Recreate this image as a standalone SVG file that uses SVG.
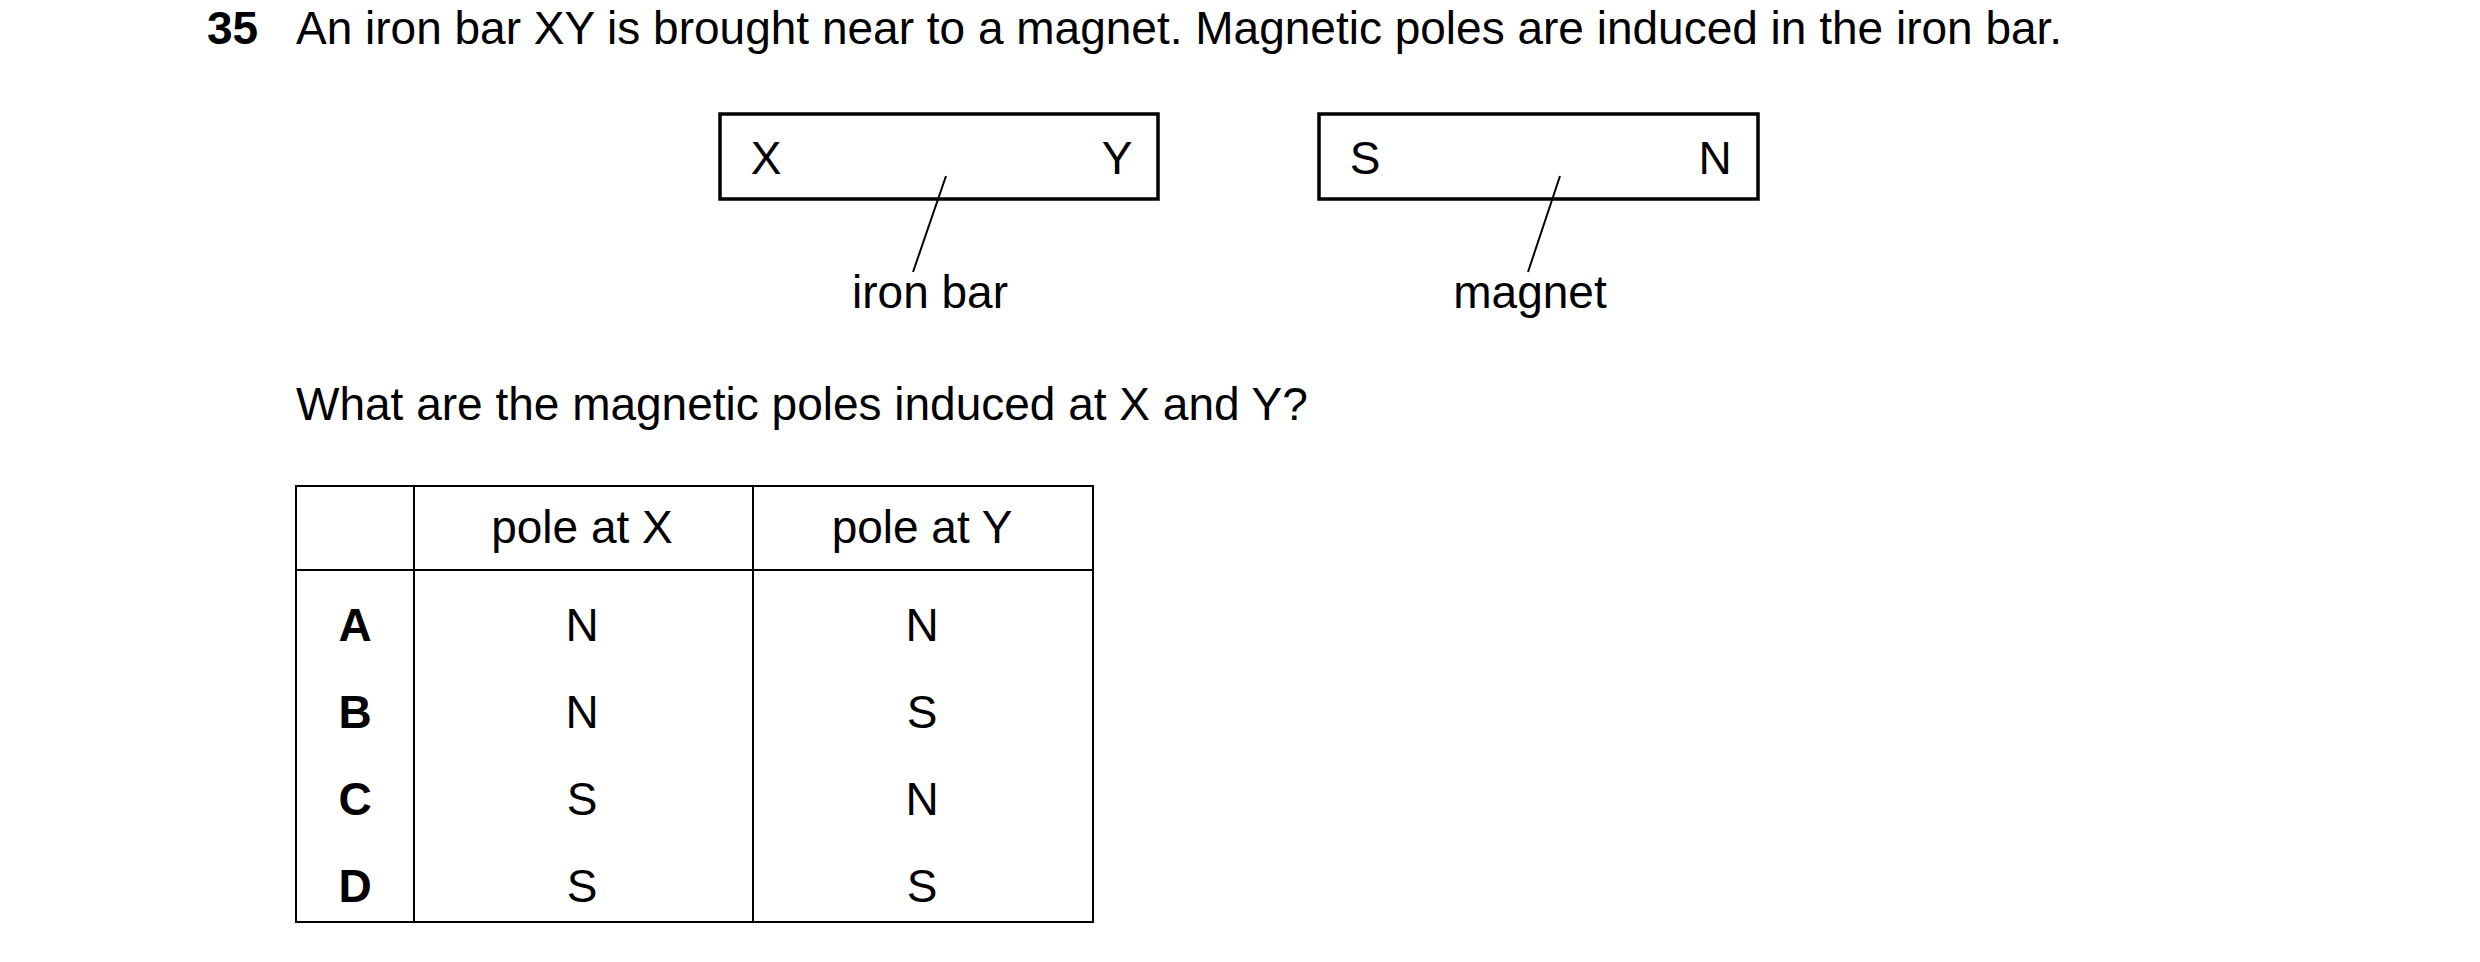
<svg xmlns="http://www.w3.org/2000/svg" width="2480" height="962" viewBox="0 0 2480 962">
<style>
text{font-family:"Liberation Sans",Arial,sans-serif;font-size:46px;fill:#000}
.c{text-anchor:middle}
.b{font-weight:bold}
.box{fill:none;stroke:#000;stroke-width:3.5}
.ln{stroke:#000;stroke-width:2}
</style>
<rect width="2480" height="962" fill="#fff"/>
<text x="207" y="44" class="b">35</text>
<text x="296" y="44">An iron bar XY is brought near to a magnet. Magnetic poles are induced in the iron bar.</text>
<g id="ironbar">
<rect class="box" x="720" y="114" width="438" height="85"/>
<text x="766" y="174" class="c">X</text>
<text x="1117" y="174" class="c">Y</text>
</g>
<g id="magnet">
<rect class="box" x="1319" y="114" width="439" height="85"/>
<text x="1365" y="174" class="c">S</text>
<text x="1715" y="174" class="c">N</text>
</g>
<g id="connectors">
<line class="ln" x1="946" y1="176" x2="913" y2="272"/>
<line class="ln" x1="1560" y1="176" x2="1528" y2="272"/>
</g>
<text x="930" y="308" class="c">iron bar</text>
<text x="1530" y="308" class="c">magnet</text>
<text x="296" y="420">What are the magnetic poles induced at X and Y?</text>
<g id="table">
<rect x="296" y="486" width="797" height="436" fill="none" stroke="#000" stroke-width="2"/>
<line class="ln" x1="414" y1="486" x2="414" y2="922"/>
<line class="ln" x1="753" y1="486" x2="753" y2="922"/>
<line class="ln" x1="296" y1="570" x2="1093" y2="570"/>
<text x="582" y="543" class="c">pole at X</text>
<text x="922" y="543" class="c">pole at Y</text>
<text x="355" y="641" class="c b">A</text><text x="582" y="641" class="c">N</text><text x="922" y="641" class="c">N</text>
<text x="355" y="728" class="c b">B</text><text x="582" y="728" class="c">N</text><text x="922" y="728" class="c">S</text>
<text x="355" y="815" class="c b">C</text><text x="582" y="815" class="c">S</text><text x="922" y="815" class="c">N</text>
<text x="355" y="902" class="c b">D</text><text x="582" y="902" class="c">S</text><text x="922" y="902" class="c">S</text>
</g>
</svg>
